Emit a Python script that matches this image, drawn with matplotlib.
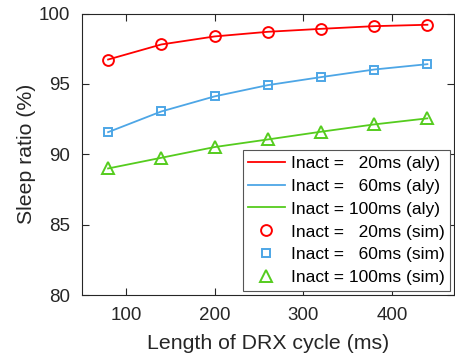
import matplotlib
matplotlib.use("Agg")
from matplotlib import pyplot as plt

plt.rcParams['font.family'] = ['Liberation Sans', 'DejaVu Sans']

drx_cycle = [80, 140, 200, 260, 320, 380, 440]
sleep_20 = [96.73, 97.80, 98.37, 98.70, 98.91, 99.10, 99.20]
sleep_60 = [91.57, 93.04, 94.11, 94.91, 95.48, 96.02, 96.40]
sleep_100 = [88.99, 89.75, 90.51, 91.05, 91.60, 92.12, 92.55]
inact_labels = ["Inact =   20ms", "Inact =   60ms", "Inact = 100ms"]

colors = ['#FF0000', '#4DA6E6', '#55CC1E']
markers = ['o', 's', '^']
series = [sleep_20, sleep_60, sleep_100]

fig = plt.figure(figsize=(4.55, 3.57), dpi=100)
ax = fig.add_axes([81.5 / 455, 1 - 295 / 357, (454 - 81.5) / 455, (295 - 13.5) / 357])

for y, c, lab in zip(series, colors, inact_labels):
    ax.plot(drx_cycle, y, '-', color=c, lw=1.3, label=lab + " (aly)")
for y, c, m, lab in zip(series, colors, markers, inact_labels):
    ms = {'o': 7.8, 's': 5.8, '^': 8.2}[m]
    ax.plot(drx_cycle, y, m, color=c, mfc='none', mew=1.4, ms=ms, label=lab + " (sim)")

ax.set_xlim(50, 470)
ax.set_ylim(80, 100)
ax.set_xticks([100, 200, 300, 400])
ax.set_yticks([80, 85, 90, 95, 100])
ax.tick_params(direction='in', top=True, right=True, length=5, width=0.8,
               labelsize=13.5, colors='#262626')
ax.tick_params(axis='x', pad=9)
ax.tick_params(axis='y', pad=8)
for s in ax.spines.values():
    s.set_color('#262626')
    s.set_linewidth(0.8)

ax.set_xlabel("Length of DRX cycle (ms)", fontsize=15.3, color='#262626', labelpad=7)
ax.set_ylabel("Sleep ratio (%)", fontsize=15.3, color='#262626', labelpad=2)

leg = ax.legend(loc='lower right', fontsize=12.5, fancybox=False, framealpha=1,
                edgecolor='#555555', borderpad=0.3, labelspacing=0.45,
                handlelength=2.1, handletextpad=0.35, borderaxespad=0.25)
leg.get_frame().set_linewidth(0.8)

fig.savefig("out.png", dpi=100)
